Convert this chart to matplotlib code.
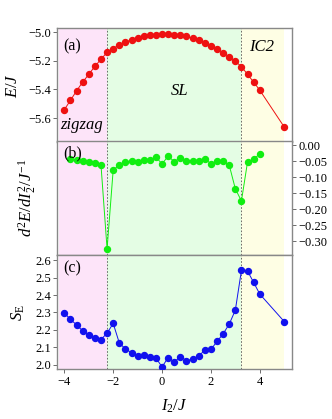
import numpy as np
import matplotlib
matplotlib.use('Agg')
import matplotlib.pyplot as plt

plt.rcParams['font.family'] = ['Liberation Serif', 'DejaVu Serif']
plt.rcParams['mathtext.fontset'] = 'custom'
plt.rcParams['mathtext.it'] = 'Liberation Serif:italic'
plt.rcParams['mathtext.rm'] = 'Liberation Serif'

# x grid of I2/J
x_e = [-4.0, -3.75, -3.5, -3.25, -3.0, -2.75, -2.5, -2.25, -2.0, -1.75, -1.5, -1.25,
       -1.0, -0.75, -0.5, -0.25, 0.0, 0.25, 0.5, 0.75, 1.0, 1.25, 1.5, 1.75, 2.0,
       2.25, 2.5, 2.75, 3.0, 3.25, 3.5, 3.75, 4.0, 5.0]
energy = [-5.541, -5.476, -5.41, -5.349, -5.295, -5.239, -5.19, -5.141, -5.115, -5.089,
          -5.07, -5.054, -5.04, -5.03, -5.023, -5.019, -5.016, -5.016, -5.019, -5.023,
          -5.03, -5.045, -5.059, -5.075, -5.096, -5.12, -5.145, -5.173, -5.204, -5.241,
          -5.295, -5.349, -5.405, -5.661]

x_d2 = x_e[1:-1]
d2e = [-0.044, -0.045, -0.050, -0.052, -0.055, -0.061, -0.324, -0.077, -0.062, -0.052,
       -0.049, -0.051, -0.045, -0.046, -0.037, -0.058, -0.034, -0.051, -0.039, -0.048,
       -0.048, -0.049, -0.043, -0.057, -0.049, -0.050, -0.062, -0.136, -0.174, -0.052,
       -0.044, -0.026]

s_e = [2.298, 2.26, 2.229, 2.194, 2.171, 2.154, 2.144, 2.181, 2.237, 2.125, 2.09, 2.069,
       2.048, 2.054, 2.044, 2.038, 1.987, 2.04, 2.015, 2.046, 2.023, 2.031, 2.05, 2.083,
       2.087, 2.133, 2.177, 2.233, 2.313, 2.542, 2.538, 2.473, 2.406, 2.248]

bounds = [-4.2, -2.25, 3.25, 5.0]
shade = ['#fde4f9', '#e4fde4', '#fefee4']

fig = plt.figure(figsize=(3.32, 4.19), dpi=100)
left, right = 57 / 332, 292 / 332
tops = [28, 141, 255.3]
h = 114.0
axes = []
for t in tops:
    ax = fig.add_axes([left, 1 - (t + h) / 419, right - left, h / 419])
    axes.append(ax)
ax1, ax2, ax3 = axes

for ax in axes:
    ax.set_xlim(-4.3, 5.32)
    for i in range(3):
        ax.axvspan(bounds[i], bounds[i + 1], color=shade[i], lw=0, zorder=0)
    for b in bounds[1:3]:
        ax.axvline(b, color='#555555', ls=(0, (2, 2)), lw=0.6, zorder=1)
    for s in ax.spines.values():
        s.set_color('#888888')
        s.set_linewidth(1.0)
    ax.tick_params(labelsize=9, color='#555555', length=3, width=0.6, pad=1.5)

ax1.plot(x_e, energy, 'o-', color='#ee1111', ms=4.3, lw=0.7, zorder=3)
ax1.set_ylim(-5.766, -4.972)
ax1.set_yticks([-5.6, -5.4, -5.2, -5.0])
ax1.set_yticklabels(['\u22125.6', '\u22125.4', '\u22125.2', '\u22125.0'])
ax1.set_xticks([])
ax1.set_ylabel('$E/J$', fontsize=12, labelpad=5)
ax1.text(-4.05, -5.103, '(a)', fontsize=11.5, va='center')
ax1.text(-4.18, -5.645, 'zigzag', fontsize=12, style='italic', va='center')
ax1.text(0.35, -5.41, 'SL', fontsize=12, style='italic', va='center')
ax1.text(3.55, -5.103, 'IC2', fontsize=12, style='italic', va='center')

ax2.plot(x_d2, d2e, 'o-', color='#11ee11', ms=4.3, lw=0.7, zorder=3)
ax2.set_ylim(-0.343, 0.0135)
ax2.yaxis.tick_right()
ax2.set_yticks([0.0, -0.05, -0.10, -0.15, -0.20, -0.25, -0.30])
ax2.set_yticklabels(['0.00', '\u22120.05', '\u22120.10', '\u22120.15', '\u22120.20',
                     '\u22120.25', '\u22120.30'])
ax2.set_xticks([])
ax2.set_ylabel('$d^2E/dI_2^2/J^{-1}$', fontsize=12, labelpad=13)
ax2.text(-4.05, -0.025, '(b)', fontsize=11.5, va='center')

ax3.plot(x_e, s_e, 'o-', color='#1111ee', ms=4.3, lw=0.7, zorder=3)
ax3.set_ylim(1.973, 2.629)
ax3.set_yticks([2.0, 2.1, 2.2, 2.3, 2.4, 2.5, 2.6])
ax3.set_xticks([-4, -2, 0, 2, 4])
ax3.set_xticklabels(['\u22124', '\u22122', '0', '2', '4'])
ax3.set_ylabel('$S_{\\mathrm{E}}$', fontsize=12, labelpad=6)
ax3.set_xlabel('$I_2/J$', fontsize=12, labelpad=7)
ax3.text(-4.05, 2.554, '(c)', fontsize=11.5, va='center')

fig.savefig('out.png', dpi=100)
